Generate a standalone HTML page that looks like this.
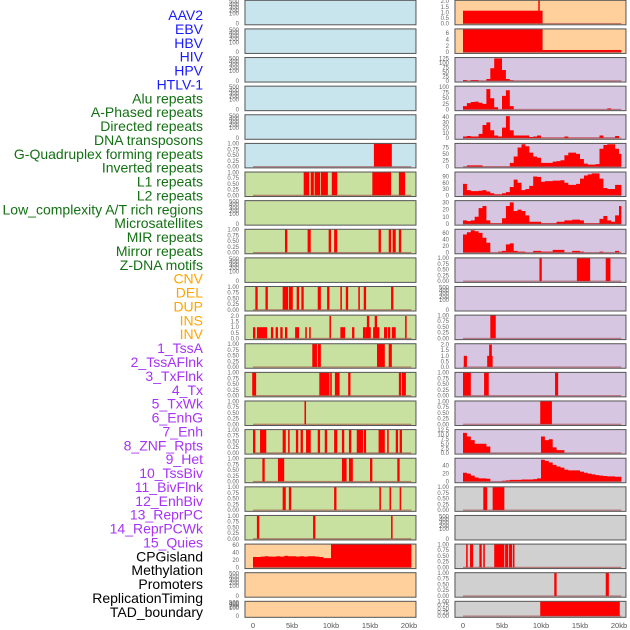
<!DOCTYPE html>
<html><head><meta charset="utf-8"><style>
body{margin:0;background:#fff;width:630px;height:630px;overflow:hidden}
svg{display:block;font-family:"Liberation Sans",sans-serif}
</style></head><body>
<svg id="chart" width="630" height="630" viewBox="0 0 630 630"></svg>
<script>
const trackLabels=["AAV2","EBV","HBV","HIV","HPV","HTLV-1","Alu repeats","A-Phased repeats","Directed repeats","DNA transposons","G-Quadruplex forming repeats","Inverted repeats","L1 repeats","L2 repeats","Low_complexity A/T rich regions","Microsatellites","MIR repeats","Mirror repeats","Z-DNA motifs","CNV","DEL","DUP","INS","INV","1_TssA","2_TssAFlnk","3_TxFlnk","4_Tx","5_TxWk","6_EnhG","7_Enh","8_ZNF_Rpts","9_Het","10_TssBiv","11_BivFlnk","12_EnhBiv","13_ReprPC","14_ReprPCWk","15_Quies","CPGisland","Methylation","Promoters","ReplicationTiming","TAD_boundary"];
const labelGroups=[6,13,5,15,5];
const groupColors=["#1a1aff","#137013","#ffa500","#a633f5","#000"];
const xTickLabels=["0","5kb","10kb","15kb","20kb"];
const xTickValues=[0,5,10,15,20];
const emptyTicks=["0","100","200","300","400","500"];
const binTicks=["0.00","0.25","0.50","0.75","1.00"];

const L5=[[15.5,17.8]];
const L6=[[6.5,7.2],[7.4,7.8],[7.9,8.6],[8.7,9.6],[10.1,10.8],[15.3,17.7],[18.7,19.5]];
const L8=[[4.1,4.4],[7.0,7.4],[9.7,10.0],[10.4,10.8],[16.1,16.4],[17.4,17.7],[17.9,18.3],[18.7,19.0]];
const L10=[[0.3,0.6],[1.6,1.9],[3.8,4.5],[4.6,5.1],[5.6,5.9],[6.2,6.5],[8.3,8.7],[9.5,9.8],[11.2,11.4],[11.9,12.2],[13.5,13.7],[14.2,14.5],[17.7,18.0]];
const L11=[[0.0,0.3,1],[0.5,1.8,1],[2.3,2.6,1],[2.9,3.2,1],[3.5,3.8,1],[4.1,4.4,1],[5.4,5.9,1],[6.7,6.9,1],[7.2,7.4,1],[9.8,10.0,2],[11.2,11.8,1],[12.7,13.0,1],[14.1,14.4,1],[14.4,15.1,1],[14.6,14.9,2],[15.4,16.2,1],[15.6,15.9,2],[16.8,17.2,1],[17.3,17.6,1],[17.8,18.3,1],[19.5,19.7,2]];
const L12=[[7.6,8.2],[8.3,8.7],[15.9,16.9],[17.4,17.8]];
const L13=[[-0.1,0.4],[8.5,9.8],[9.9,10.1],[10.5,11.1],[12.2,12.5],[18.7,19.0],[19.1,19.6]];
const L14=[[6.6,6.8]];
const L15=[[0,0.3],[0.9,1.7],[3.8,4.2],[4.5,4.7],[5.5,5.8],[6.1,6.4],[6.8,7.4],[8.3,8.6],[9.2,9.5],[10.4,10.8],[11.4,11.7],[12.3,12.6],[13.3,14.1],[14.2,14.5],[16.1,16.9],[17.2,17.4],[18.3,18.6],[18.8,19.1]];
const L16=[[1.2,1.5],[3.2,4.0],[11.4,12.0],[12.3,12.8],[15.0,15.3],[18.5,18.8]];
const L17=[[3.8,4.2],[4.6,4.9],[10.4,10.7],[16.2,16.4],[17.5,17.7],[18.8,19.0]];
const L18=[[0.5,0.8],[7.7,8.0],[17.7,17.9]];
const L19=[28,28,29,30,29,29,30,29,31,30,30,29,30,29,30,30,29,28,25,25,63,63,63,63,63,63,63,63,63,63,63,63,63,63,63,63,63,63,63,63,63];
const R0=[[0,10.2,1.15],[9.65,9.8,2.2]];
const R1=[[0,10.2,7.2],[10.2,20.3,0.7]];
const R2=[5,0,5,5,0,0,10,70,125,125,60,10,3,0,0,0,0,0,0,0,0,0,0,0,0,0,0,0,0,0,0,0,0,0,0,0,0,0,0,0,0];
const R3=[15,28,33,35,30,25,90,50,10,0,60,85,15,0,0,0,0,0,0,0,0,0,0,0,0,0,0,0,0,0,0,0,0,0,0,0,0,5,0,0,0];
const R4=[3,4,3,3,8,25,30,15,5,3,20,42,15,5,5,5,5,2,3,5,1,1,1,1,1,1,3,1,1,1,1,1,1,1,1,5,1,1,1,4,0];
const R5=[0,5,5,5,5,1,1,1,1,1,1,1,15,40,75,88,80,55,40,35,15,15,15,20,22,25,45,55,55,50,30,12,8,8,10,70,85,88,88,70,50];
const R6=[55,25,20,20,22,25,18,10,5,5,10,15,40,75,60,25,30,45,90,88,65,68,68,70,70,72,60,50,50,55,80,95,100,105,105,80,35,30,30,50,50];
const R7=[5,4,5,10,22,25,5,1,1,1,8,25,30,18,20,18,12,3,3,3,1,1,1,1,3,3,5,5,6,6,5,1,1,1,1,7,11,5,3,12,25];
const R8=[55,62,68,65,60,45,30,0,0,3,5,25,28,5,3,3,0,0,5,5,3,3,3,8,8,8,0,0,5,5,3,0,0,0,0,3,0,0,0,5,0];
const R9=[[9.8,10.1],[14.6,16.3],[18.3,18.9]];
const R11=[[3.5,4.2]];
const R12=[[0.1,0.5,1],[3.1,3.8,1],[3.35,3.7,2]];
const R13=[[0,1.0],[2.7,3.3],[11.8,12.2]];
const R14=[[9.9,11.4]];
const R15=[11,9,7,5,5,5,3.5,0,0,0,0,0,0,0,0,0,0,0,0,0,9,7,7.5,3,1.5,1.5,0,0,0,0,0,0,0,0,0,0,0,0,0,0,0];
const R16=[22,20,15,10,8,8,7,0,0,0,2,3,4,4,4,5,5,5,6,8,55,52,48,42,38,35,30,28,28,28,25,22,20,18,16,15,14,13,13,12,12];
const R17=[[2.6,3.1],[3.8,5.3]];
const R19=[[0.4,0.6],[0.9,1.3],[2.1,2.4],[2.6,2.8],[4.0,5.3],[5.4,5.8],[5.9,6.3],[6.4,6.6]];
const R20=[[11.7,12.0],[18.3,18.7]];
const R21=[[9.9,20.1]];

const BLUE="#c8e4ec",GREEN="#c8e0a0",ORANGE="#ffd09c",PURPLE="#d6c6e2",GRAY="#d0d0d0";
const E={t:"empty"};
const leftPanels=[
 {...E,bg:BLUE},{...E,bg:BLUE},{...E,bg:BLUE},{...E,bg:BLUE},{...E,bg:BLUE},
 {t:"bin",d:L5,bg:BLUE},{t:"bin",d:L6,bg:GREEN},{...E,bg:GREEN},{t:"bin",d:L8,bg:GREEN},{...E,bg:GREEN},
 {t:"bin",d:L10,bg:GREEN},{t:"int",d:L11,bg:GREEN,ticks:[0,0.5,1,1.5,2],fmt:1,top:2.05},
 {t:"bin",d:L12,bg:GREEN},{t:"bin",d:L13,bg:GREEN},{t:"bin",d:L14,bg:GREEN},{t:"bin",d:L15,bg:GREEN},
 {t:"bin",d:L16,bg:GREEN},{t:"bin",d:L17,bg:GREEN},{t:"bin",d:L18,bg:GREEN},
 {t:"prof",d:L19,bg:ORANGE,ticks:[0,20,40,60],top:62},{...E,bg:ORANGE},{...E,bg:ORANGE,small:1}];
const rightPanels=[
 {t:"int",d:R0,bg:ORANGE,ticks:[0,0.5,1,1.5,2],fmt:1,top:2.05},{t:"int",d:R1,bg:ORANGE,ticks:[0,2,4,6],top:7.2},
 {t:"prof",d:R2,bg:PURPLE,ticks:[0,25,50,75,100,125],top:128},{t:"prof",d:R3,bg:PURPLE,ticks:[0,25,50,75,100],top:102},
 {t:"prof",d:R4,bg:PURPLE,ticks:[0,10,20,30,40],top:44},{t:"prof",d:R5,bg:PURPLE,ticks:[0,25,50,75],top:90},
 {t:"prof",d:R6,bg:PURPLE,ticks:[0,30,60,90],top:110},{t:"prof",d:R7,bg:PURPLE,ticks:[0,10,20,30],top:32},
 {t:"prof",d:R8,bg:PURPLE,ticks:[0,20,40,60],top:70},{t:"bin",d:R9,bg:PURPLE},{...E,bg:PURPLE},
 {t:"bin",d:R11,bg:PURPLE},{t:"int",d:R12,bg:PURPLE,ticks:[0,0.5,1,1.5,2],fmt:1,top:2.05},
 {t:"bin",d:R13,bg:PURPLE},{t:"bin",d:R14,bg:PURPLE},
 {t:"prof",d:R15,bg:PURPLE,ticks:[0,2.5,5,7.5,10,12.5],fmt:1,top:12.6},
 {t:"prof",d:R16,bg:PURPLE,ticks:[0,20,40],top:58},{t:"bin",d:R17,bg:GRAY},{...E,bg:GRAY},
 {t:"bin",d:R19,bg:GRAY},{t:"bin",d:R20,bg:GRAY},{t:"bin",d:R21,bg:GRAY,small:1}];

const NS="http://www.w3.org/2000/svg";
const svg=document.getElementById("chart");
function mk(tag,attrs,parent){const e=document.createElementNS(NS,tag);for(const k in attrs)e.setAttribute(k,attrs[k]);(parent||svg).appendChild(e);return e;}
const PX=7.8;
function xScale(col,kb){return (col===0?253:463)+kb*PX;}
function rowTop(i){return i*28.62+0.3;}
function rowH(i){return i===21?16:24.5;}
function yScale(i,v,top){const y0=rowTop(i)+rowH(i)-1.2,y1=rowTop(i)+0.3;return y0-(v/top)*(y0-y1);}

let li=0;
labelGroups.forEach((n,g)=>{for(let k=0;k<n;k++){const t=mk("text",{x:203,y:(20+li*13.88).toFixed(1),"text-anchor":"end","font-size":"14",fill:groupColors[g]});


t.textContent=trackLabels[li];li++;}});

function tickLabel(col,y,txt){const t=mk("text",{x:(col===0?239:449),y:(y+2).toFixed(1),"text-anchor":"end","font-size":"6",fill:"#666"});


t.textContent=txt;}

function drawPanel(col,i,p){
 const g=mk("g",{});
 
 
 const x=xScale(col,-1.03),w=171,y=rowTop(i),h=rowH(i);
 mk("rect",{x,y,width:w,height:h,fill:p.bg},g);
 const base=y+h-1.2;
 if(p.t==="empty"){
  const n=emptyTicks.length;
  emptyTicks.forEach((s,k)=>{const yy=k===0?base:y+1+(n-1-k)*(h-9)/(n-1);tickLabel(col,yy,s);});
 } else {
  let ticks,top;
  if(p.t==="bin"){ticks=[0,0.25,0.5,0.75,1];top=1;}
  else {ticks=p.ticks;top=p.top;}
  ticks.forEach((v,k)=>{let s=p.t==="bin"?binTicks[k]:(p.fmt?v.toFixed(1):String(v));tickLabel(col,yScale(i,v,top),s);});
  if(p.t==="bin"||p.t==="int"){
   p.d.forEach(d=>{const v=p.t==="bin"?1:d[2];const x1=xScale(col,d[0]),x2=xScale(col,d[1]);const yv=yScale(i,v,top);
    const r=mk("rect",{x:x1.toFixed(2),y:yv.toFixed(2),width:Math.max(1.5,x2-x1).toFixed(2),height:(base-yv).toFixed(2),fill:"#ff0000"},g);
    
    });
  } else {
   let pts=[];p.d.forEach((v,k)=>{const x1=xScale(col,k*0.5),x2=xScale(col,Math.min(k*0.5+0.5,20.3));const yv=yScale(i,Math.min(v,top),top);pts.push(x1.toFixed(2)+","+yv.toFixed(2),x2.toFixed(2)+","+yv.toFixed(2));});
   const path=mk("polygon",{points:xScale(col,0).toFixed(2)+","+base+" "+pts.join(" ")+" "+xScale(col,20.3).toFixed(2)+","+base,fill:"#ff0000"},g);
   
   
  }
  mk("rect",{x:xScale(col,0),y:base-0.6,width:20.3*PX,height:1.2,fill:"#a04040",opacity:0.6},g);
 }
 mk("rect",{x,y,width:w,height:h,fill:"none",stroke:"#555","stroke-width":1},g);
}
leftPanels.forEach((p,i)=>drawPanel(0,i,p));
rightPanels.forEach((p,i)=>drawPanel(1,i,p));
[0,1].forEach(col=>{xTickValues.forEach((v,k)=>{const t=mk("text",{x:xScale(col,v).toFixed(1),y:628,"text-anchor":"middle","font-size":"7.5",fill:"#555"});
 
 
 t.textContent=xTickLabels[k];});});
</script>
</body></html>
